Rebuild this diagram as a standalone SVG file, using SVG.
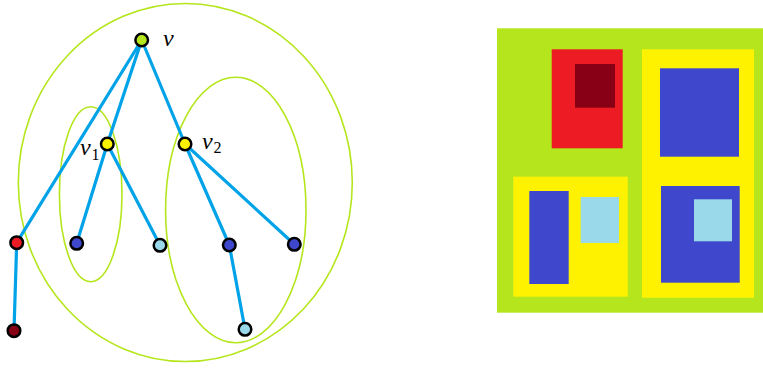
<svg xmlns="http://www.w3.org/2000/svg" width="763" height="368" viewBox="0 0 763 368">
<style>
.set{fill:none;stroke:#b5e61d;stroke-width:1.6}
.edge{stroke:#00a2e8;stroke-width:3.2;stroke-linecap:round}
.node{stroke:#000;stroke-width:2.5}
.lbl{font-family:"Liberation Serif","DejaVu Serif",serif;font-style:italic;font-size:24px;fill:#000}
.sub{font-family:"Liberation Serif","DejaVu Serif",serif;font-size:16px;fill:#000}
</style>
<rect width="763" height="368" fill="#fff"/>
<g id="sets">
<ellipse class="set" cx="185.3" cy="182.5" rx="167" ry="179"/>
<ellipse class="set" cx="90.7" cy="194.2" rx="31.3" ry="87.5"/>
<ellipse class="set" cx="235.8" cy="210" rx="70.2" ry="132.7"/>
</g>
<g id="connectors">
<line class="edge" x1="141.7" y1="40" x2="16.7" y2="242.7"/>
<line class="edge" x1="141.7" y1="40" x2="107.3" y2="144"/>
<line class="edge" x1="141.7" y1="40" x2="185" y2="144"/>
<line class="edge" x1="107.3" y1="144" x2="76.7" y2="243.3"/>
<line class="edge" x1="107.3" y1="144" x2="160" y2="245.3"/>
<line class="edge" x1="185" y1="144" x2="229.3" y2="245"/>
<line class="edge" x1="185" y1="144" x2="294.3" y2="244.3"/>
<line class="edge" x1="16.7" y1="242.7" x2="14" y2="330.7"/>
<line class="edge" x1="229.3" y1="245" x2="245" y2="329.3"/>
</g>
<g id="n-v"><circle class="node" cx="141.7" cy="40" r="6.3" fill="#b5e61d"/><text class="lbl" x="163" y="46">v</text></g>
<g id="n-v1"><circle class="node" cx="107.3" cy="144" r="6.3" fill="#fff200"/><text class="lbl" x="80" y="155">v</text><text class="sub" x="91.5" y="159.5">1</text></g>
<g id="n-v2"><circle class="node" cx="185" cy="144" r="6.3" fill="#fff200"/><text class="lbl" x="202" y="149">v</text><text class="sub" x="213.5" y="153">2</text></g>
<g id="n-red"><circle class="node" cx="16.7" cy="242.7" r="6.3" fill="#ed1c24"/></g>
<g id="n-blue1"><circle class="node" cx="76.7" cy="243.3" r="6.3" fill="#3f48cc"/></g>
<g id="n-lb1"><circle class="node" cx="160" cy="245.3" r="6.3" fill="#99d9ea"/></g>
<g id="n-blue2"><circle class="node" cx="229.3" cy="245" r="6.3" fill="#3f48cc"/></g>
<g id="n-blue3"><circle class="node" cx="294.3" cy="244.3" r="6.3" fill="#3f48cc"/></g>
<g id="n-darkred"><circle class="node" cx="14" cy="330.7" r="6.3" fill="#880015"/></g>
<g id="n-lb2"><circle class="node" cx="245" cy="329.3" r="6.3" fill="#99d9ea"/></g>
<g id="treemap">
<rect x="497" y="28.3" width="266" height="284.4" fill="#b5e61d"/>
<rect x="551.7" y="49.3" width="71" height="99" fill="#ed1c24"/>
<rect x="575" y="64" width="40" height="43.7" fill="#880015"/>
<rect x="642" y="49.3" width="112" height="248.4" fill="#fff200"/>
<rect x="660" y="68.3" width="79" height="88.4" fill="#3f48cc"/>
<rect x="661" y="186" width="78.7" height="96.7" fill="#3f48cc"/>
<rect x="694" y="199.3" width="38" height="42" fill="#99d9ea"/>
<rect x="513.3" y="176.7" width="114.4" height="120" fill="#fff200"/>
<rect x="529.3" y="191" width="39.4" height="93" fill="#3f48cc"/>
<rect x="580.7" y="197" width="38.3" height="46" fill="#99d9ea"/>
</g>
</svg>
